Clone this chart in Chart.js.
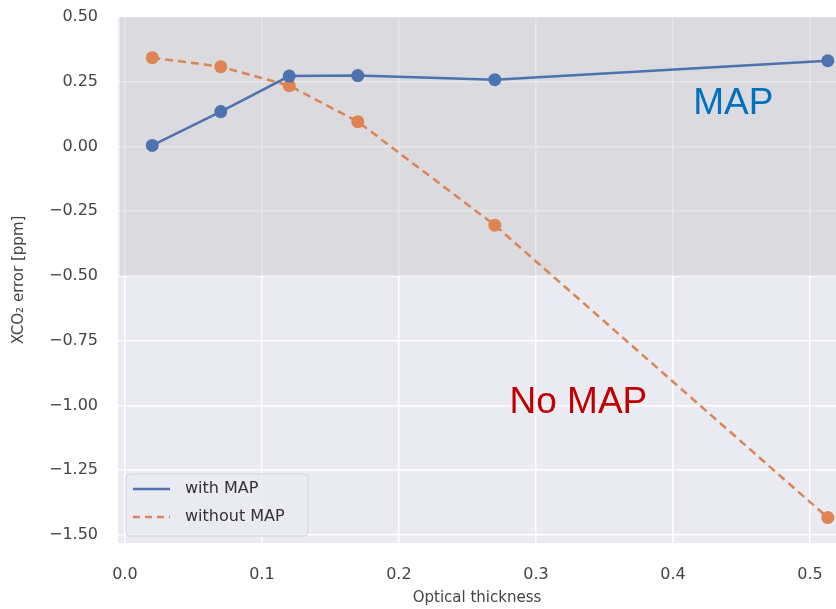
<!DOCTYPE html>
<html>
<head>
<meta charset="utf-8">
<script src="https://cdn.jsdelivr.net/npm/chart.js@4.4.1/dist/chart.umd.min.js"></script>
<style>
  html, body { margin: 0; padding: 0; background: #fff; overflow: hidden; }
  canvas { display: block; }
</style>
</head>
<body>
<canvas id="chart" width="836" height="609"></canvas>
<script>
// Data dari gambar
const tebalOptik = [0.02, 0.07, 0.12, 0.17, 0.27, 0.513];
const denganMAP = [0.004, 0.135, 0.272, 0.274, 0.258, 0.331];
const tanpaMAP = [0.343, 0.308, 0.235, 0.096, -0.304, -1.433];

const labelSeri = ["with MAP", "without MAP"];
const xTicks = [0.0, 0.1, 0.2, 0.3, 0.4, 0.5];
const yTicks = [0.5, 0.25, 0.0, -0.25, -0.5, -0.75, -1.0, -1.25, -1.5];

// daerah abu-abu (MAP) dan teks anotasi
const daerahMAP = { yAtas: 0.5, yBawah: -0.5 };
const anotasi = [
  { teks: "MAP", x: 0.444, y: 0.165, warna: "#0070C0" },
  { teks: "No MAP", x: 0.331, y: -0.99, warna: "#C00000" },
];

const biru = "#4C72B0";
const oranye = "#DD8452";

// Latar belakang gaya seaborn
const latarPlugin = {
  id: "latar",
  beforeDraw(chart) {
    const { ctx, chartArea: a } = chart;
    ctx.save();
    ctx.fillStyle = "#EAEAF2";
    ctx.fillRect(a.left, a.top, a.right - a.left, a.bottom - a.top);
    ctx.restore();
  },
  beforeDatasetsDraw(chart) {
    const { ctx, chartArea: a, scales } = chart;
    const yTop = scales.y.getPixelForValue(daerahMAP.yAtas);
    const yBot = scales.y.getPixelForValue(daerahMAP.yBawah);
    ctx.save();
    ctx.fillStyle = "rgba(191,191,191,0.375)";
    ctx.fillRect(a.left + 2, yTop, a.right - a.left - 2, yBot - yTop);
    ctx.restore();
  },
  afterDraw(chart) {
    const { ctx, scales } = chart;
    ctx.save();
    // teks anotasi
    ctx.font = "37px 'Liberation Sans', Arial, sans-serif";
    ctx.textAlign = "center";
    ctx.textBaseline = "middle";
    anotasi.forEach((a) => {
      ctx.fillStyle = a.warna;
      ctx.fillText(a.teks, scales.x.getPixelForValue(a.x), scales.y.getPixelForValue(a.y));
    });

    // legenda
    const lx = 126, ly = 474, lw = 182, lh = 62;
    ctx.beginPath();
    ctx.roundRect(lx, ly, lw, lh, 4);
    ctx.fillStyle = "rgba(234,234,242,0.8)";
    ctx.fill();
    ctx.strokeStyle = "#D4D4DC";
    ctx.lineWidth = 1;
    ctx.stroke();

    const warna = [biru, oranye];
    const dash = [[], [7, 5]];
    ctx.font = "16px 'DejaVu Sans', sans-serif";
    ctx.textAlign = "left";
    ctx.textBaseline = "middle";
    labelSeri.forEach((lbl, i) => {
      const yy = 489 + i * 28;
      ctx.beginPath();
      ctx.setLineDash(dash[i]);
      ctx.strokeStyle = warna[i];
      ctx.lineWidth = 2.5;
      ctx.moveTo(133, yy);
      ctx.lineTo(170, yy);
      ctx.stroke();
      ctx.setLineDash([]);
      ctx.fillStyle = "#333";
      ctx.fillText(lbl, 185, yy);
    });
    ctx.restore();
  },
};

const ctx = document.getElementById("chart").getContext("2d");
new Chart(ctx, {
  type: "line",
  data: {
    datasets: [
      {
        label: labelSeri[0],
        data: tebalOptik.map((x, i) => ({ x: x, y: denganMAP[i] })),
        borderColor: biru,
        backgroundColor: biru,
        borderWidth: 2.5,
        pointRadius: 6.5,
        pointBorderWidth: 0,
        tension: 0,
        clip: false,
      },
      {
        label: labelSeri[1],
        data: tebalOptik.map((x, i) => ({ x: x, y: tanpaMAP[i] })),
        borderColor: oranye,
        backgroundColor: oranye,
        borderWidth: 2.5,
        borderDash: [8, 5],
        pointRadius: 6.5,
        pointBorderWidth: 0,
        tension: 0,
        clip: false,
      },
    ],
  },
  options: {
    responsive: false,
    animation: false,
    layout: { autoPadding: false, padding: { top: 17, right: 0, bottom: 0, left: 0 } },
    plugins: {
      legend: { display: false },
      tooltip: { enabled: false },
    },
    scales: {
      x: {
        type: "linear",
        min: -0.005,
        max: 0.519,
        afterBuildTicks: (scale) => {
          scale.ticks = xTicks.map((v) => ({ value: v }));
        },
        afterFit: (scale) => {
          scale.height = 66;
          scale.paddingLeft = 0;
          scale.paddingRight = 0;
        },
        grid: { color: "#FFFFFF", lineWidth: 1.5, drawTicks: false },
        border: { display: false },
        ticks: {
          padding: 22,
          color: "#444",
          font: { family: "'DejaVu Sans', sans-serif", size: 16 },
          callback: (v) => v.toFixed(1),
        },
        title: {
          display: true,
          text: "Optical thickness",
          color: "#444",
          font: { family: "'DejaVu Sans', sans-serif", size: 15 },
          padding: { top: 0, bottom: 2 },
        },
      },
      y: {
        type: "linear",
        min: -1.531,
        max: 0.5,
        afterBuildTicks: (scale) => {
          scale.ticks = yTicks.map((v) => ({ value: v }));
        },
        afterFit: (scale) => {
          scale.width = 118;
          scale.paddingTop = 0;
          scale.paddingBottom = 0;
        },
        grid: { color: "#FFFFFF", lineWidth: 1.5, drawTicks: false },
        border: { display: false },
        ticks: {
          padding: 20,
          color: "#444",
          font: { family: "'DejaVu Sans', sans-serif", size: 16 },
          callback: (v) => v.toFixed(2).replace("-", "\u2212"),
        },
        title: {
          display: true,
          text: "XCO\u2082 error [ppm]",
          color: "#444",
          font: { family: "'DejaVu Sans', sans-serif", size: 15 },
          padding: { top: 10, bottom: 0 },
        },
      },
    },
  },
  plugins: [latarPlugin],
});
</script>
</body>
</html>
